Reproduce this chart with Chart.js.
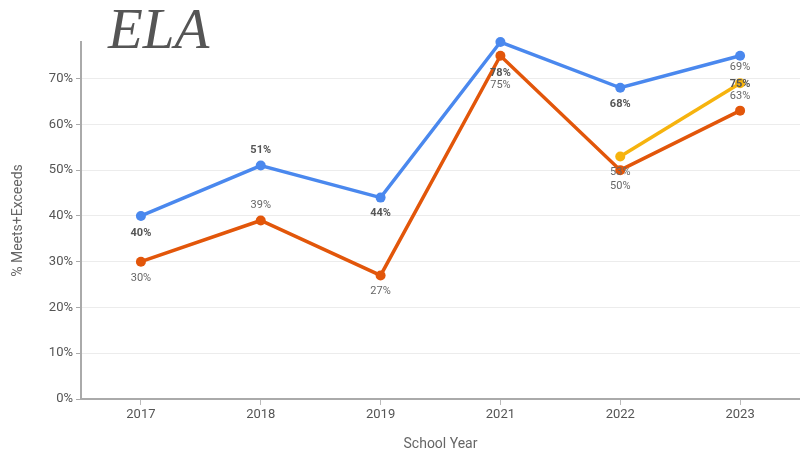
<!DOCTYPE html>
<html>
<head>
<meta charset="utf-8">
<script src="https://cdn.jsdelivr.net/npm/chart.js@4.4.1/dist/chart.umd.min.js"></script>
<style>
  html, body { margin: 0; padding: 0; background: #fff; }
  #wrap { width: 800px; height: 453px; position: relative; }
</style>
</head>
<body>
<div id="wrap"><canvas id="elaChart"></canvas></div>
<script>
// ── Data ─────────────────────────────────────────────────────────────────────
const years = ['2017', '2018', '2019', '2021', '2022', '2023'];
const seriesBlue = [40, 51, 44, 78, 68, 75];
const seriesOrange = [30, 39, 27, 75, 50, 63];
const seriesYellow = [null, null, null, null, 53, 69];
const yTicks = [0, 10, 20, 30, 40, 50, 60, 70];

// label offsets (px, from the point), per series
const labelOffsets = [
  [17, -15, 16, 31, 16, 29],
  [17, -15, 16, 30, 16, -14],
  [0, 0, 0, 0, 16, -16]
];
const labelFonts = ['bold 11px Roboto', '11px Roboto', '11px Roboto'];
const labelColors = ['#555', '#666', '#666'];

// ── Plugins ──────────────────────────────────────────────────────────────────
const pointLabels = {
  id: 'pointLabels',
  afterDatasetsDraw(chart) {
    const ctx = chart.ctx;
    ctx.save();
    ctx.textAlign = 'center';
    ctx.textBaseline = 'middle';
    chart.data.datasets.forEach((ds, di) => {
      const meta = chart.getDatasetMeta(di);
      meta.data.forEach((pt, i) => {
        const v = ds.data[i];
        if (v === null || v === undefined) return;
        ctx.font = labelFonts[di];
        ctx.fillStyle = labelColors[di];
        ctx.fillText(v + '%', pt.x, pt.y + labelOffsets[di][i]);
      });
    });
    ctx.restore();
  }
};

const bigTitle = {
  id: 'bigTitle',
  afterDraw(chart) {
    const ctx = chart.ctx;
    ctx.save();
    ctx.font = 'italic 57px "Liberation Serif"';
    ctx.fillStyle = '#555';
    ctx.textBaseline = 'alphabetic';
    ctx.textAlign = 'left';
    ctx.fillText('ELA', 108, 48);
    ctx.restore();
  }
};

// ── Chart ────────────────────────────────────────────────────────────────────
Chart.defaults.font.family = 'Roboto';

function lineSet(label, data, color) {
  return {
    label,
    data,
    borderColor: color,
    backgroundColor: color,
    borderWidth: 3.5,
    pointRadius: 5,
    pointBorderWidth: 0,
    tension: 0,
    clip: false
  };
}

new Chart(document.getElementById('elaChart').getContext('2d'), {
  type: 'line',
  data: {
    labels: years,
    datasets: [
      lineSet('Blue', seriesBlue, '#4a88ee'),
      lineSet('Orange', seriesOrange, '#e2560a'),
      lineSet('Yellow', seriesYellow, '#f6b30e')
    ]
  },
  options: {
    responsive: true,
    maintainAspectRatio: false,
    animation: false,
    layout: { autoPadding: false, padding: { top: 42, right: -4, left: 0, bottom: 0 } },
    plugins: {
      legend: { display: false },
      tooltip: { enabled: false }
    },
    scales: {
      x: {
        offset: true,
        afterFit: s => { s.height = 54; s.paddingLeft = 0; s.paddingRight = 0; },
        grid: { drawOnChartArea: false, drawTicks: true, tickLength: 6, tickColor: '#bbb' },
        border: { color: '#aaa', width: 2 },
        ticks: { color: '#555', font: { size: 13 }, padding: 2 },
        title: { display: true, text: 'School Year', color: '#666', font: { size: 14 }, padding: { top: 4, bottom: 0 } }
      },
      y: {
        min: 0,
        max: 78,
        afterFit: s => { s.width = 81; },
        afterBuildTicks: s => { s.ticks = yTicks.map(v => ({ value: v })); },
        grid: { color: '#ececec', tickColor: '#aaa', tickLength: 5 },
        border: { color: '#aaa', width: 2 },
        ticks: { color: '#555', font: { size: 13 }, padding: 3, callback: v => v + '%' },
        title: { display: true, text: '% Meets+Exceeds', color: '#666', font: { size: 14 }, padding: { top: 10, bottom: 4 } }
      }
    }
  },
  plugins: [pointLabels, bigTitle]
});
</script>
</body>
</html>
